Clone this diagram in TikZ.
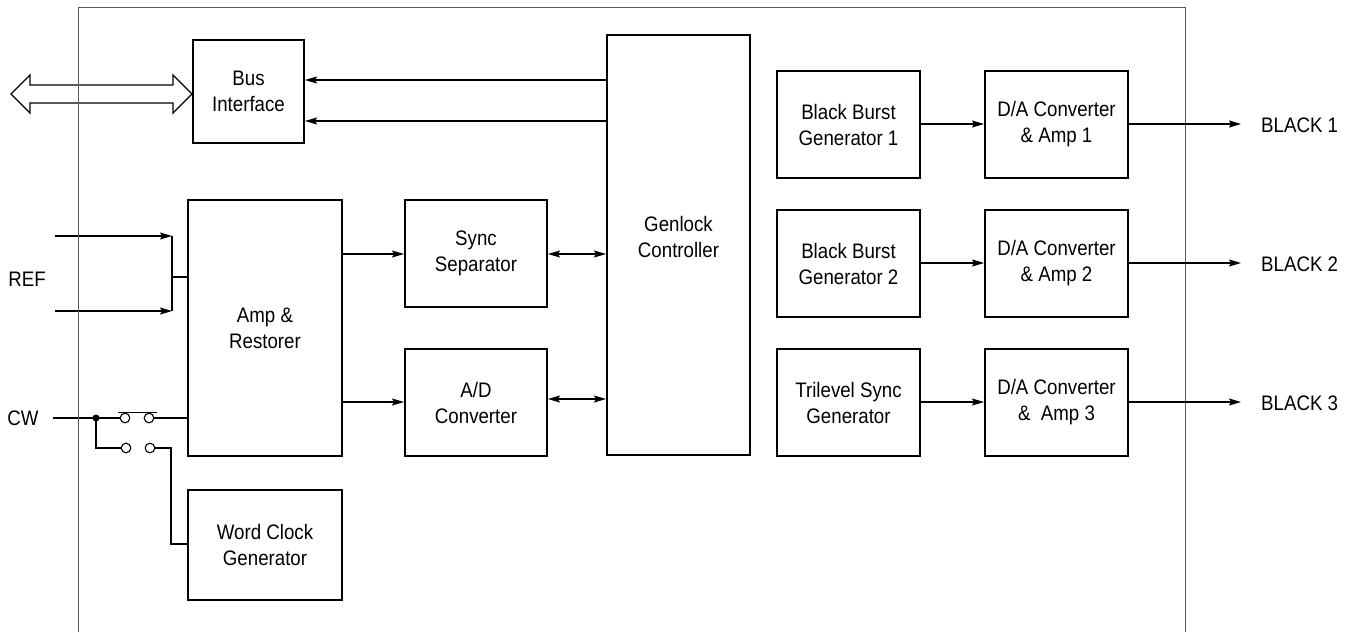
\documentclass[tikz,border=0pt]{standalone}
\usepackage{fontspec}
\setmainfont{Liberation Sans}[FakeStretch=0.89]
\usetikzlibrary{arrows.meta,calc}
\begin{document}
\begin{tikzpicture}[x=1pt,y=-1pt,
  box/.style={draw, line width=2pt, align=center, inner sep=0pt, font=\fontsize{21}{26}\selectfont},
  lbl/.style={font=\fontsize{21}{26}\selectfont, inner sep=0pt},
  conn/.style={line width=1.1pt},
  arr/.style={conn, -{Stealth[length=12pt,width=7pt,inset=2pt]}},
  darr/.style={conn, {Stealth[length=12pt,width=7pt,inset=2pt]}-{Stealth[length=12pt,width=7pt,inset=2pt]}},
  frame/.style={draw=black!65, line width=1pt},
  sw/.style={draw, fill=white, line width=1.1pt}]
\useasboundingbox (0,0) rectangle (1354,632);

% frame
\draw[frame] (78,632) -- (78,7) -- (1185,7) -- (1185,632);

% boxes
\node[box, minimum width=111, minimum height=103] (bus) at (248.5,91.5) {Bus\\Interface};
\node[box, minimum width=143, minimum height=420] (gen) at (678.5,245) {};
\node[lbl, align=center] (genl) at (678.5,237) {Genlock\\Controller};
\node[box, minimum width=154, minimum height=256] (amp) at (265,328) {Amp \&\\Restorer};
\node[box, minimum width=142, minimum height=107] (sync) at (476,253.5) {Sync\\Separator};
\node[box, minimum width=142, minimum height=107] (adc) at (476,402.5) {A/D\\Converter};
\node[box, minimum width=154, minimum height=110] (wcg) at (265,545) {Word Clock\\Generator};
\node[box, minimum width=143, minimum height=107] (bb1) at (848.5,124.5) {Black Burst\\Generator 1};
\node[box, minimum width=143, minimum height=107] (da1) at (1056.5,124.5) {D/A Converter\\\& Amp 1};
\node[box, minimum width=143, minimum height=107] (bb2) at (848.5,263.5) {Black Burst\\Generator 2};
\node[box, minimum width=143, minimum height=107] (da2) at (1056.5,263.5) {D/A Converter\\\& Amp 2};
\node[box, minimum width=143, minimum height=107] (tri) at (848.5,402.5) {Trilevel Sync\\Generator};
\node[box, minimum width=143, minimum height=107] (da3) at (1056.5,402.5) {D/A Converter\\\&\ \ Amp 3};

% labels
\node[lbl] (ref) at (27,279) {REF};
\node[lbl] (cw) at (23,418) {CW};
\node[lbl, anchor=west] (k1) at (1261,125) {BLACK 1};
\node[lbl, anchor=west] (k2) at (1261,264) {BLACK 2};
\node[lbl, anchor=west] (k3) at (1261,403) {BLACK 3};

% bus double arrow
\coordinate (busL) at (11,94);
\draw[line width=1.3pt, line join=miter] (busL) -- ++(19,-19) -- ++(0,10) -- ++(143,0) -- ++(0,-10)
  -- (bus.west |- busL) -- ++(-19,19) -- ++(0,-10) -- ++(-143,0) -- ++(0,10) -- cycle;

% genlock -> bus
\draw[arr] (gen.west |- 0,80) -- (bus.east |- 0,80);
\draw[arr] (gen.west |- 0,121) -- (bus.east |- 0,121);

% REF inputs
\coordinate (r1) at (55,236);
\coordinate (r2) at (55,311);
\coordinate (rj) at (172,277);
\draw[arr] (r1) -- (rj |- r1);
\draw[arr] (r2) -- (rj |- r2);
\draw[conn] (rj |- r1) -- (rj |- r2);
\draw[conn] (rj) -- (amp.west |- rj);

% amp -> sync / adc
\draw[arr] (amp.east |- 0,254) -- (sync.west |- 0,254);
\draw[arr] (amp.east |- 0,402) -- (adc.west |- 0,402);
\draw[darr] (sync.east |- 0,254) -- (gen.west |- 0,254);
\draw[darr] (adc.east |- 0,399) -- (gen.west |- 0,399);

% right chain
\foreach \a/\b/\k/\y in {bb1/da1/k1/124, bb2/da2/k2/263, tri/da3/k3/402}{
  \draw[arr] (\a.east |- 0,\y) -- (\b.west |- 0,\y);
  \coordinate (t\k) at (1241,\y);
  \draw[arr] (\b.east |- 0,\y) -- (t\k);
}

% CW switch
\coordinate (cwin) at (53,418);
\coordinate (dot) at (96,418);
\coordinate (s1a) at (125,418);
\coordinate (s1b) at (149,418);
\coordinate (s2a) at (126,448);
\coordinate (s2b) at (150,448);
\coordinate (wj) at (171,544);
\draw[conn] (cwin) -- (dot) -- (s1a);
\draw[conn] (s1b) -- (amp.west |- s1b);
\draw[conn] (dot) |- (s2a);
\draw[conn] (s2b) -| (wj) -- (wcg.west |- wj);
\draw[conn] (118,412.5) -- (157,412.5);
\draw[sw] (s1a) circle (4.8pt);
\draw[sw] (s1b) circle (4.8pt);
\draw[sw] (s2a) circle (4.8pt);
\draw[sw] (s2b) circle (4.8pt);
\fill (dot) circle (3.5pt);

% frame left line drawn over arrow
\draw[frame] (78,632) -- (78,7);
\end{tikzpicture}
\end{document}
